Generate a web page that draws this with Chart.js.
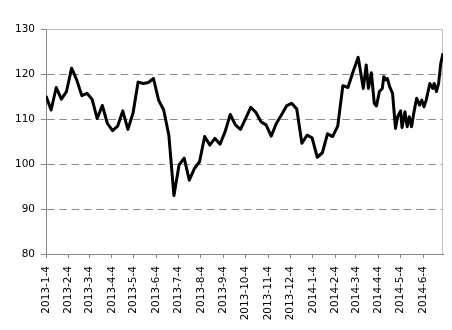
<!DOCTYPE html>
<html><head><meta charset="utf-8">
<script src="https://cdn.jsdelivr.net/npm/chart.js@4/dist/chart.umd.min.js"></script>
<style>html,body{margin:0;padding:0;background:#fff}#wrap{width:452px;height:330px}</style>
</head><body><div id="wrap"><canvas id="c" width="452" height="330"></canvas></div>
<script>
// Start date of the series; x values are days since this date
const startDate = '2013-1-4';
const endDate = '2014-7-1';
const dayOffsets = [0,7,14,21,28,35,42,49,56,63,70,77,84,91,98,105,112,119,126,133,140,147,154,161,168,175,182,189,196,203,210,217,224,231,238,245,252,259,266,273,280,287,294,301,308,315,322,329,336,343,350,357,364,371,378,385,392,399,406,413,420,427,434,438,441,445,449,452,456,460,462,465,467,470,474,478,481,485,487,491,494,497,500,503,507,511,514,517,520,525,529,531,534,537,540,543];
const values = [115.1,112,117,114.4,116.1,121.3,118.7,115.2,115.7,114.4,110.1,113,109,107.4,108.4,111.8,107.7,111.3,118.2,117.9,118.1,119,114.2,112,106.4,93,99.8,101.3,96.4,99,100.5,106.1,104.2,105.7,104.4,107.2,111,108.7,107.7,110.1,112.6,111.5,109.4,108.7,106.2,109,110.9,112.9,113.5,112.2,104.6,106.4,105.8,101.5,102.5,106.7,106.1,108.4,117.4,117,120.5,123.7,116.8,122,116.8,120.3,113.5,112.9,116.1,116.8,119.4,118.7,119,117.2,115.7,107.9,110.5,111.8,108.1,111.6,108.3,110.5,108.3,111.3,114.6,113.1,114.2,112.7,114.2,117.9,116.8,117.9,116.1,117.9,122.4,124.6];
const tickLabels = ['2013-1-4','2013-2-4','2013-3-4','2013-4-4','2013-5-4','2013-6-4','2013-7-4','2013-8-4','2013-9-4','2013-10-4','2013-11-4','2013-12-4','2014-1-4','2014-2-4','2014-3-4','2014-4-4','2014-5-4','2014-6-4'];
const yMin = 80, yMax = 130, yStep = 10;

function dayNum(s){
  const p = s.split('-').map(Number);
  const q = startDate.split('-').map(Number);
  return Math.round((Date.UTC(p[0],p[1]-1,p[2]) - Date.UTC(q[0],q[1]-1,q[2]))/86400000);
}
const tickMap = {};
tickLabels.forEach(l => { tickMap[dayNum(l)] = l; });

const frame = {
  id: 'frame',
  beforeDatasetsDraw(chart){
    const a = chart.chartArea, ctx = chart.ctx;
    ctx.save();
    ctx.strokeStyle = '#c0c0c0';
    ctx.lineWidth = 1;
    ctx.beginPath();
    ctx.moveTo(Math.round(a.left)+0.5, Math.round(a.top)+0.5);
    ctx.lineTo(Math.round(a.right)-0.5, Math.round(a.top)+0.5);
    ctx.lineTo(Math.round(a.right)-0.5, Math.round(a.bottom));
    ctx.stroke();
    ctx.restore();
  }
};

new Chart(document.getElementById('c'), {
  type: 'line',
  data: {
    datasets: [{
      data: dayOffsets.map((d,i) => ({x: d, y: values[i]})),
      borderColor: '#000',
      borderWidth: 3,
      pointRadius: 0,
      tension: 0,
      borderJoinStyle: 'round',
      fill: false
    }]
  },
  options: {
    responsive: false,
    animation: false,
    devicePixelRatio: 1,
    layout: { padding: { top: 29, right: 9, left: 0, bottom: 0 } },
    plugins: { legend: { display: false }, tooltip: { enabled: false } },
    scales: {
      x: {
        type: 'linear',
        min: 0,
        max: dayNum(endDate),
        afterBuildTicks(s){ s.ticks = tickLabels.map(l => ({value: dayNum(l)})); },
        afterFit(s){ s.height = 76; },
        border: { color: '#868686', width: 1 },
        grid: { drawOnChartArea: false, drawTicks: true, tickLength: 4, tickColor: '#868686' },
        ticks: {
          autoSkip: false, maxRotation: 90, minRotation: 90, padding: 8,
          color: '#000', font: { family: 'DejaVu Sans', size: 10.5 },
          callback: v => tickMap[v] || ''
        }
      },
      y: {
        min: yMin, max: yMax,
        afterFit(s){ s.width = 46; },
        border: { color: '#868686', width: 1, dash: [7.5,4.8] },
        grid: {
          color: c => (c.tick && c.tick.value === yMax) || (c.tick && c.tick.value === yMin) ? 'rgba(0,0,0,0)' : '#8a8a8a',
          tickColor: '#868686', tickLength: 5, tickBorderDash: []
        },
        ticks: {
          stepSize: yStep, padding: 6, color: '#000',
          font: { family: 'DejaVu Sans', size: 10.5 }
        }
      }
    }
  },
  plugins: [frame]
});
</script>
</body></html>
